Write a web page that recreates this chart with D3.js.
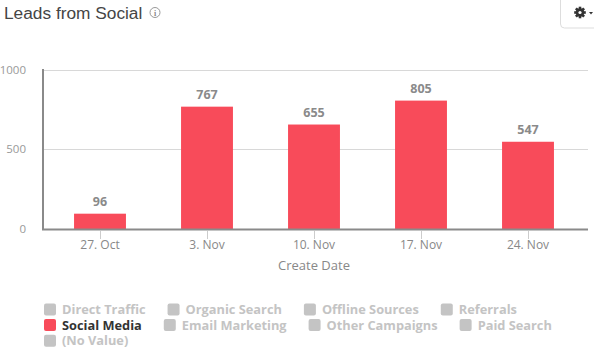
<!DOCTYPE html>
<html><head><meta charset="utf-8">
<script src="https://cdn.jsdelivr.net/npm/d3@7"></script>
<style>
html,body{margin:0;padding:0;background:#fff;overflow:hidden;}
svg{display:block;}
</style></head>
<body>
<svg id="c" width="594" height="355"></svg>
<script>
const categories = ["27. Oct", "3. Nov", "10. Nov", "17. Nov", "24. Nov"];
const socialMedia = [96, 767, 655, 805, 547];
const yTicks = [0, 500, 1000];
const legendRows = [
  ["Direct Traffic", "Organic Search", "Offline Sources", "Referrals"],
  ["Social Media", "Email Marketing", "Other Campaigns", "Paid Search"],
  ["(No Value)"]
];
const activeSeries = "Social Media";
const title = "Leads from Social";
const xTitle = "Create Date";

const FONT = "'Open Sans', 'DejaVu Sans', sans-serif";
const svg = d3.select("#c");

// Title
svg.append("text").attr("x", 4).attr("y", 19)
  .attr("font-family", "'Liberation Sans', Arial, sans-serif")
  .attr("font-size", 17.3).attr("fill", "#454545").text(title);
// info icon
const info = svg.append("g").attr("transform", "translate(155,12.5)");
info.append("circle").attr("r", 5).attr("fill", "none").attr("stroke", "#999").attr("stroke-width", 1);
info.append("text").attr("y", 3).attr("text-anchor", "middle").attr("font-size", 8)
  .attr("font-family", "serif").attr("font-weight", "bold").attr("fill", "#888").text("i");

// Gear button
svg.append("rect").attr("x", 560.5).attr("y", -6).attr("width", 50).attr("height", 34)
  .attr("rx", 4).attr("fill", "#fff").attr("stroke", "#ddd");
const gear = svg.append("g").attr("transform", "translate(580,12.5)");
for (let i = 0; i < 8; i++) {
  gear.append("rect").attr("x", -1.3).attr("y", -5.8).attr("width", 2.6).attr("height", 3)
    .attr("fill", "#333").attr("transform", `rotate(${i * 45})`);
}
gear.append("circle").attr("r", 4.2).attr("fill", "#333");
gear.append("circle").attr("r", 1.6).attr("fill", "#fff");
svg.append("path").attr("d", "M589,12 l4,0 l-2,2.5 z").attr("fill", "#333");

// Scales
const x = d3.scaleBand().domain(categories).range([46.5, 581.5]);
const y = d3.scaleLinear().domain([0, 1000]).range([229, 69.5]);
const barW = x.bandwidth() * 0.485;

// gridlines
svg.append("g").selectAll("line").data(yTicks.filter(d => d > 0)).join("line")
  .attr("x1", 43).attr("x2", 588)
  .attr("y1", d => Math.round(y(d)) + 0.5).attr("y2", d => Math.round(y(d)) + 0.5)
  .attr("stroke", "#d8d8d8").attr("stroke-width", 1);

// y labels
svg.append("g").selectAll("text").data(yTicks).join("text")
  .attr("x", 26).attr("y", d => y(d) + 4).attr("text-anchor", "end")
  .attr("font-family", FONT).attr("font-size", 11.5).attr("fill", "#999")
  .text(d => d);

// bars
svg.append("g").selectAll("rect").data(socialMedia).join("rect")
  .attr("x", (d, i) => x(categories[i]) + x.bandwidth() / 2 - barW / 2)
  .attr("width", barW)
  .attr("y", d => y(d))
  .attr("height", d => y(0) - y(d))
  .attr("fill", "#f84b5a");

// value labels
svg.append("g").selectAll("text").data(socialMedia).join("text")
  .attr("x", (d, i) => x(categories[i]) + x.bandwidth() / 2)
  .attr("y", d => y(d) - 7.5)
  .attr("text-anchor", "middle")
  .attr("font-family", FONT).attr("font-weight", "bold").attr("font-size", 12.5)
  .attr("fill", "#8a8a8a").text(d => d);

// axes lines
svg.append("line").attr("x1", 43).attr("x2", 43).attr("y1", 69).attr("y2", 230)
  .attr("stroke", "#8a8a8a").attr("stroke-width", 2);
svg.append("line").attr("x1", 42).attr("x2", 588).attr("y1", 229.5).attr("y2", 229.5)
  .attr("stroke", "#8a8a8a").attr("stroke-width", 2);

// x ticks
const xa = svg.append("g");
xa.selectAll("line").data(categories).join("line")
  .attr("x1", d => Math.round(x(d) + x.bandwidth() / 2) + 0.5)
  .attr("x2", d => Math.round(x(d) + x.bandwidth() / 2) + 0.5)
  .attr("y1", 231).attr("y2", 239).attr("stroke", "#ccc");
xa.selectAll("text").data(categories).join("text")
  .attr("x", d => x(d) + x.bandwidth() / 2).attr("y", 249)
  .attr("text-anchor", "middle").attr("font-family", FONT).attr("font-size", 12)
  .attr("fill", "#888").text(d => d);
svg.append("text").attr("x", (46.5 + 581.5) / 2 ).attr("y", 270)
  .attr("text-anchor", "middle").attr("font-family", FONT).attr("font-size", 13)
  .attr("fill", "#888").text(xTitle);

// legend
const rowY = [309.5, 325, 340.7];
const lg = svg.append("g");
legendRows.forEach((row, ri) => {
  let cx = 44;
  row.forEach(name => {
    const on = name === activeSeries;
    lg.append("rect").attr("x", cx).attr("y", rowY[ri] - 6).attr("width", 12).attr("height", 12)
      .attr("rx", 2).attr("fill", on ? "#f84b5a" : "#c4c4c4");
    const t = lg.append("text").attr("x", cx + 18).attr("y", rowY[ri] + 4.5)
      .attr("font-family", FONT).attr("font-weight", "bold").attr("font-size", 12.8)
      .attr("fill", on ? "#333" : "#c4c4c4").text(name);
    const w = t.node().getComputedTextLength();
    cx = cx + 18 + w + 22;
  });
});
</script>
</body></html>
